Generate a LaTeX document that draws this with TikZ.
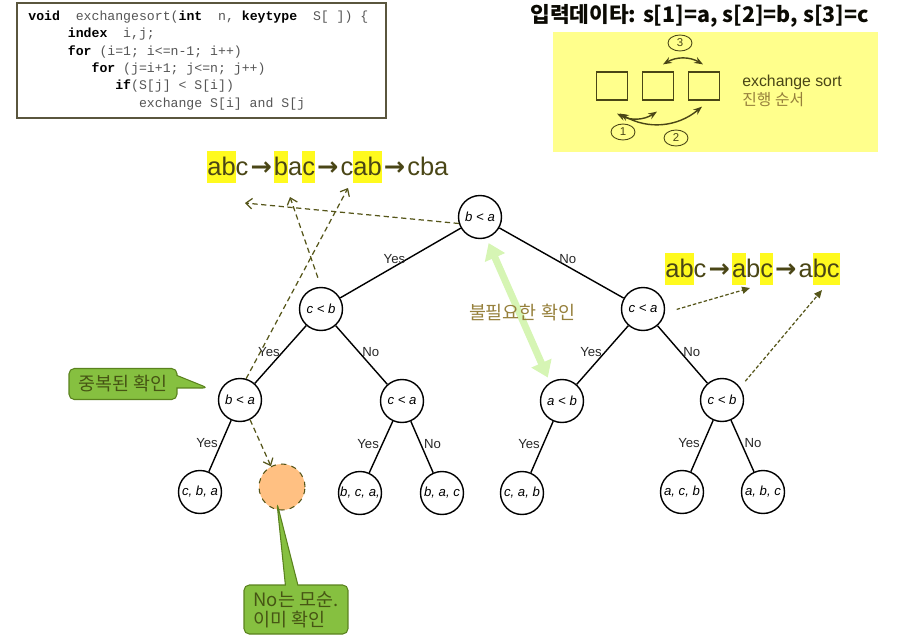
\documentclass[tikz,border=0pt]{standalone}
\usepackage{fontspec}
\setmainfont{Liberation Sans}
\setmonofont{Liberation Mono}
\newfontfamily\kr{Noto Sans CJK KR}
\newfontfamily\arrowfont{DejaVu Sans}
\usepackage{xcolor}
\usetikzlibrary{arrows.meta, shapes.geometric, shapes.callouts}
\definecolor{olivetxt}{RGB}{74,70,22}
\definecolor{tantxt}{RGB}{150,128,60}
\definecolor{dashcol}{RGB}{85,85,25}
\definecolor{hlyellow}{RGB}{255,250,30}
\definecolor{boxyellow}{RGB}{255,255,140}
\definecolor{callgreen}{RGB}{134,192,64}
\definecolor{callborder}{RGB}{90,130,30}
\definecolor{calltxt}{RGB}{70,85,20}
\definecolor{orangefill}{RGB}{255,192,130}
\definecolor{lgreen}{RGB}{214,245,180}
\definecolor{codeborder}{RGB}{90,86,62}
\definecolor{codegray}{RGB}{85,85,85}
\definecolor{lblgray}{RGB}{40,40,40}
\newcommand{\hl}[1]{{\setlength{\fboxsep}{0pt}\colorbox{hlyellow}{\rule[-4.5pt]{0pt}{18.3pt}#1}}}
\newcommand{\arr}{\kern1.2pt{\arrowfont\bfseries →}\kern1.2pt}
\tikzset{
  qnode/.style={circle, draw, line width=0.8pt, fill=white, minimum size=0.86cm,
    inner sep=0pt, font=\fontsize{7.5}{9}\selectfont\itshape},
  edge/.style={line width=0.8pt},
  lbl/.style={font=\fontsize{7.5}{9}\selectfont, text=lblgray, inner sep=1.5pt},
  dasharr/.style={draw=dashcol, line width=0.7pt, dash pattern=on 3pt off 2pt,
    -{Straight Barb[length=3.5pt,width=6pt]}},
  dotarr/.style={draw=dashcol, line width=0.7pt, dash pattern=on 2pt off 1.2pt,
    -{Triangle[length=4.5pt,width=4pt]}},
  swaparr/.style={draw=olivetxt, line width=0.8pt, {Stealth[length=5pt]}-{Stealth[length=5pt]}},
  cell/.style={draw=olivetxt, line width=0.7pt, minimum width=0.62cm, minimum height=0.56cm},
  numel/.style={ellipse, draw=olivetxt, line width=0.5pt, minimum width=0.48cm,
    minimum height=0.32cm, inner sep=0pt, text=olivetxt, font=\fontsize{6.5}{7}\selectfont},
  callbox/.style={rectangle callout, draw=callborder, fill=callgreen, line width=0.6pt,
    rounded corners=3pt, text=calltxt, font=\fontsize{10.5}{11.3}\selectfont\kr},
  greenarr/.style={draw=lgreen, line width=4pt,
    {Triangle[length=9pt,width=12pt]}-{Triangle[length=9pt,width=12pt]},
    shorten <=3pt, shorten >=3pt},
  seq/.style={anchor=base west, inner sep=0pt, text=olivetxt,
    font=\fontsize{14.5}{17.5}\selectfont}
}

\begin{document}
\begin{tikzpicture}[x=0.02cm, y=-0.02cm]
  \useasboundingbox (0,0) rectangle (922,639);

  % code box
  \draw[codeborder, line width=0.75pt] (17,3) rectangle (386,118);
  \node[anchor=north west, inner sep=0pt, align=left, text=codegray,
    font=\fontsize{7.5}{9.9}\selectfont\ttfamily] (code) at (28,10.5)
  {{\color{black}\bfseries void}~~exchangesort({\color{black}\bfseries int}~~n, {\color{black}\bfseries keytype}~~S[~]) \{\\
   ~~~~~{\color{black}\bfseries index}~~i,j;\\
   ~~~~~{\color{black}\bfseries for} (i=1; i<=n-1; i++)\\
   ~~~~~~~~{\color{black}\bfseries for} (j=i+1; j<=n; j++)\\
   ~~~~~~~~~~~{\color{black}\bfseries if}(S[j] < S[i])\\
   ~~~~~~~~~~~~~~exchange S[i] and S[j};

  % input data
  \node[anchor=base west, inner sep=0pt, text=black!85!olivetxt,
    font=\fontsize{12.2}{14}\selectfont\kr\bfseries] (title) at (530,22)
    {입력데이타: s[1]=a, s[2]=b, s[3]=c};
  \fill[boxyellow] (553,32) rectangle (878,152);
  \node[cell] (s1) at (612,86) {};
  \node[cell] (s2) at (658,86) {};
  \node[cell] (s3) at (704,86) {};
  \draw[swaparr] ([shift={(5,13)}]s1.south) to[bend right=30] ([shift={(-1,11)}]s2.south);
  \draw[swaparr] ([shift={(8,13)}]s1.south) to[bend right=35] ([shift={(-2,6)}]s3.south);
  \draw[swaparr] ([shift={(5,-7)}]s2.north) to[bend left=30] ([shift={(-1,-7)}]s3.north);
  \node[numel] (n1) at (623,132) {1};
  \node[numel] (n2) at (676,138) {2};
  \node[numel] (n3) at (680,43) {3};
  \node[anchor=base west, inner sep=0pt, text=olivetxt, font=\fontsize{9}{11}\selectfont]
    (ex) at (742,86) {exchange sort};
  \node[anchor=base west, inner sep=0pt, text=tantxt, font=\fontsize{9}{11}\selectfont\kr]
    (order) at (742,105) {진행 순서};

  % sequences
  \node[seq] (seqL) at (207,175)
    {\hl{ab}c\arr\hl{b}a\hl{c}\arr c\hl{ab}\arr cba};
  \node[seq] (seqR) at (665,277)
    {\hl{ab}c\arr\hl{a}b\hl{c}\arr a\hl{bc}};

  % decision tree
  \node[qnode] (q1) at (480,217) {b < a};
  \node[qnode] (q2) at (321,309) {c < b};
  \node[qnode] (q3) at (643,309) {c < a};
  \node[qnode] (q4) at (240,400) {b < a};
  \node[qnode] (q5) at (402,401) {c < a};
  \node[qnode] (q6) at (562,401) {a < b};
  \node[qnode] (q7) at (722,400) {c < b};
  \node[qnode] (l1) at (200,492) {c, b, a};
  \node[qnode, fill=orangefill, draw=dashcol, line width=0.6pt, dashed,
    minimum size=0.92cm] (l2) at (282,487) {};
  \node[qnode] (l3) at (360,493) {b, c, a,};
  \node[qnode] (l4) at (442,493) {b, a, c};
  \node[qnode] (l5) at (522,493) {c, a, b};
  \node[qnode] (l6) at (682,492) {a, c, b};
  \node[qnode] (l7) at (763,492) {a, b, c};

  \draw[edge] (q1) -- node[lbl, above, pos=0.55] {Yes} (q2);
  \draw[edge] (q1) -- node[lbl, above, pos=0.55] {No} (q3);
  \draw[edge] (q2) -- node[lbl, left, pos=0.45] {Yes} (q4);
  \draw[edge] (q2) -- node[lbl, right, pos=0.45] {No} (q5);
  \draw[edge] (q4) -- node[lbl, left, pos=0.45] {Yes} (l1);
  \draw[edge] (q5) -- node[lbl, left, pos=0.45] {Yes} (l3);
  \draw[edge] (q5) -- node[lbl, right, pos=0.45] {No} (l4);
  \draw[edge] (q3) -- node[lbl, left, pos=0.45] {Yes} (q6);
  \draw[edge] (q3) -- node[lbl, right, pos=0.45] {No} (q7);
  \draw[edge] (q6) -- node[lbl, left, pos=0.45] {Yes} (l5);
  \draw[edge] (q7) -- node[lbl, left, pos=0.45] {Yes} (l6);
  \draw[edge] (q7) -- node[lbl, right, pos=0.45] {No} (l7);

  % traces to the sequences
  \coordinate (t1) at (245,203);
  \coordinate (t2) at (290,197);
  \coordinate (t3) at (348,188);
  \coordinate (t5) at (750,288);
  \coordinate (t6) at (822,290);
  \draw[dasharr] (q1.197) -- (t1);
  \draw[dasharr, shorten <=5.5pt] (q2.north) -- (t2);
  \draw[dasharr] (q4.74) -- (t3);
  \draw[dasharr] (q4.-63) -- (l2.118);
  \draw[dotarr, shorten <=7pt] (q3.-10) -- (t5);
  \draw[dotarr, shorten <=4.5pt] (q7.35) -- (t6);

  % unneeded check
  \draw[greenarr] (q1.-73) -- (q6.123);
  \node[text=tantxt, font=\fontsize{10.5}{12}\selectfont\kr] (unneed) at (522,313)
    {불필요한 확인};

  % callouts
  \coordinate (dupTip) at (208,388);
  \node[callbox, callout absolute pointer={(dupTip)}, minimum width=2.16cm,
    minimum height=0.62cm] (dup) at (123,384) {중복된 확인};
  \coordinate (nmTip) at (277,503);
  \node[callbox, callout absolute pointer={(nmTip)}, align=left, minimum width=2.08cm,
    minimum height=0.98cm] (contra) at (296,609.5) {No는 모순.\\이미 확인};
\end{tikzpicture}
\end{document}
